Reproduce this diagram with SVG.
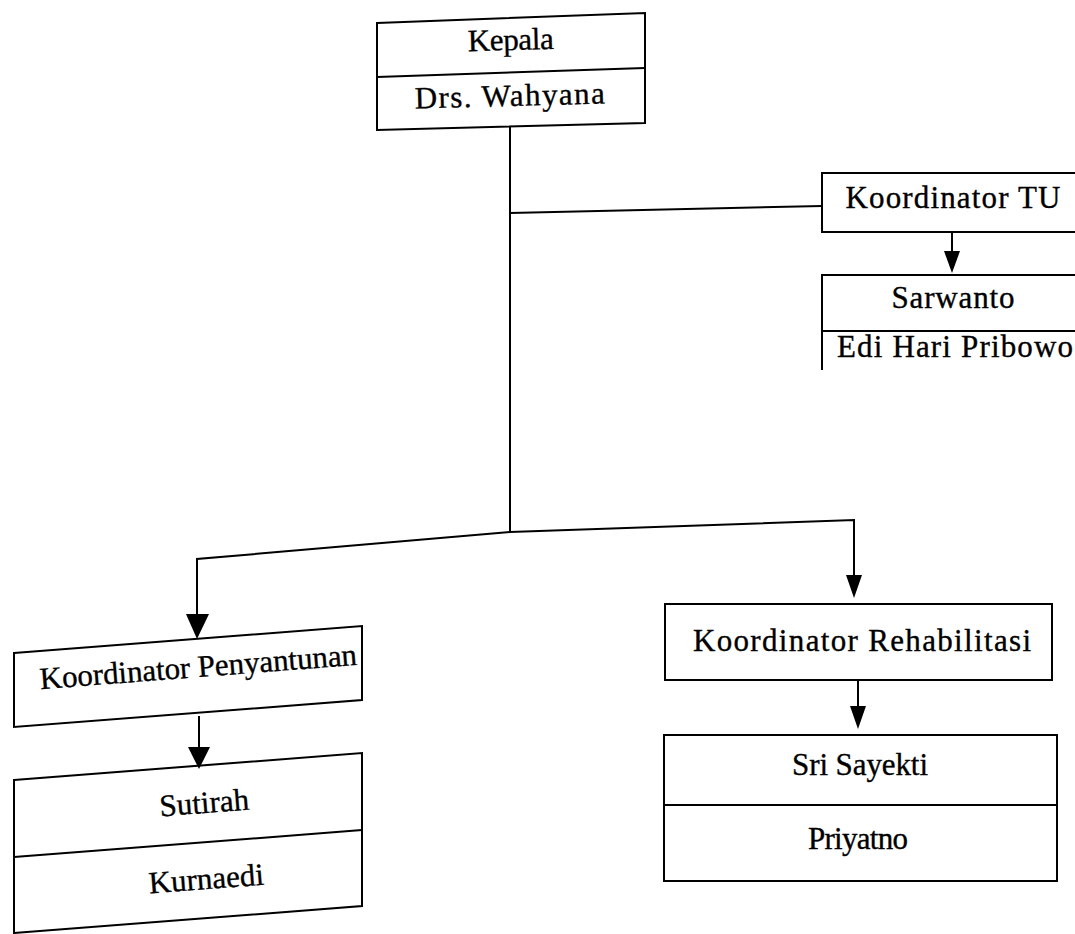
<svg xmlns="http://www.w3.org/2000/svg" width="1075" height="934" viewBox="0 0 1075 934">
<style>
.box{fill:none;stroke:#000;stroke-width:2}
.ln{fill:none;stroke:#000;stroke-width:2}
.t{font-family:"Liberation Serif","Times New Roman",serif;font-size:31px;fill:#000;stroke:#000;stroke-width:0.35;text-anchor:middle}
.t2{font-family:"Liberation Serif","Times New Roman",serif;font-size:31px;fill:#000;stroke:#000;stroke-width:0.35;text-anchor:middle}
.ah{fill:#000;stroke:none}
</style>
<rect width="1075" height="934" fill="#fff"/>
<g id="connectors">
<polyline class="ln" points="510,126 510,532"/>
<polyline class="ln" points="510,213 822,206"/>
<polyline class="ln" points="510,532 197,559 197,618"/>
<polygon class="ah" points="186,614 209,614 197,639"/>
<polyline class="ln" points="510,532 854,520 854,578"/>
<polygon class="ah" points="846,575 862,575 854,598"/>
<polyline class="ln" points="952,232 952,254"/>
<polygon class="ah" points="944,251 960,251 952,273"/>
<polyline class="ln" points="199,716 199,750"/>
<polygon class="ah" points="188,747 210,747 199,769"/>
<polyline class="ln" points="858,681 858,709"/>
<polygon class="ah" points="850,706 866,706 858,729"/>
</g>
<g id="kepala">
<polygon class="box" points="377,23 645,13 645,123 377,130"/>
<line class="ln" x1="377" y1="77" x2="645" y2="68"/>
<text class="t" x="511" y="50" textLength="86" transform="rotate(-1.5 511 50)">Kepala</text>
<text class="t" x="510" y="106" textLength="190" transform="rotate(-1.5 510 106)">Drs. Wahyana</text>
</g>
<g id="koordinator-tu">
<polyline class="box" points="1080,173 822,173 822,232 1080,232"/>
<text class="t" x="953" y="208" textLength="215">Koordinator TU</text>
</g>
<g id="sarwanto">
<polyline class="box" points="1080,275 822,275 822,370"/>
<line class="ln" x1="822" y1="331" x2="1080" y2="331"/>
<text class="t" x="953" y="308" textLength="123">Sarwanto</text>
<text class="t" x="955" y="357" textLength="236">Edi Hari Pribowo</text>
</g>
<g id="koordinator-penyantunan">
<polygon class="box" points="14,653 362,626 362,700 14,727"/>
<text class="t2" x="199" y="677" textLength="318" transform="rotate(-4.4 199 677)">Koordinator Penyantunan</text>
</g>
<g id="sutirah">
<polygon class="box" points="14,780 362,753 362,906 14,933"/>
<line class="ln" x1="14" y1="857" x2="362" y2="830"/>
<text class="t2" x="205" y="813" transform="rotate(-4.4 205 813)">Sutirah</text>
<text class="t2" x="207" y="889" transform="rotate(-4.4 207 889)">Kurnaedi</text>
</g>
<g id="koordinator-rehabilitasi">
<rect class="box" x="665" y="604" width="387" height="76"/>
<text class="t" x="862" y="651" textLength="338">Koordinator Rehabilitasi</text>
</g>
<g id="sri-sayekti">
<rect class="box" x="664" y="735" width="393" height="146"/>
<line class="ln" x1="664" y1="805" x2="1057" y2="805"/>
<text class="t" x="860" y="775" textLength="136">Sri Sayekti</text>
<text class="t" x="858" y="849" textLength="100">Priyatno</text>
</g>
</svg>
